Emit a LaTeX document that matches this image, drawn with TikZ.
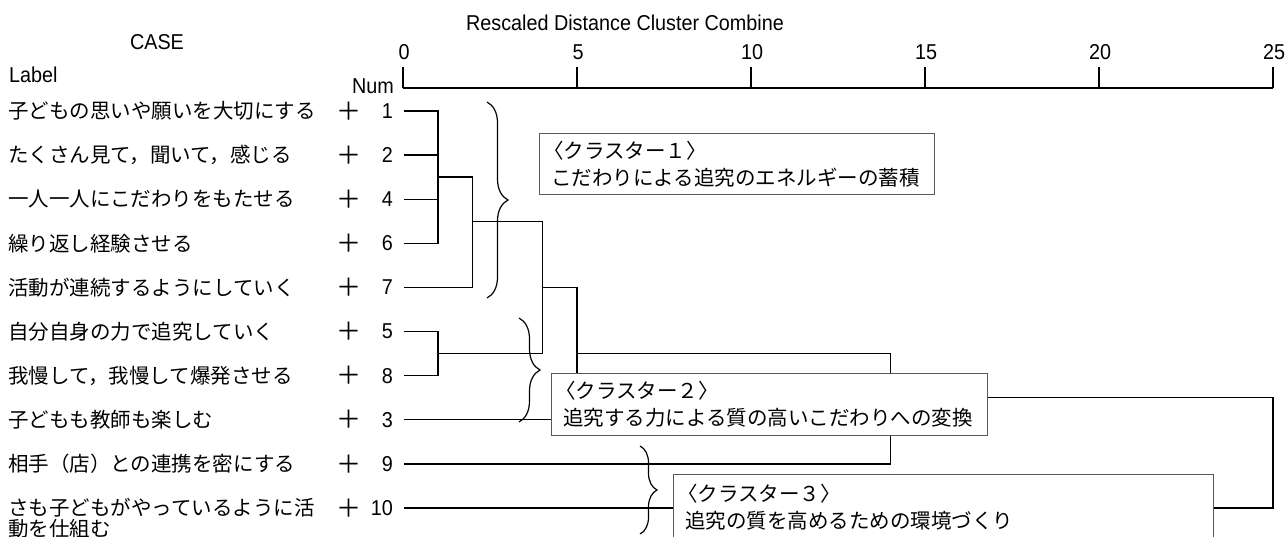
\documentclass[tikz,border=0pt]{standalone}
\usepackage{fontspec}
\setmainfont{Liberation Sans}[FakeStretch=0.92]
\newfontfamily\jpfont{Noto Sans CJK JP}
\usepackage{tikz}
\usetikzlibrary{positioning, decorations.pathreplacing}

\tikzset{
    lbl/.style={anchor=west, inner sep=0pt, font=\jpfont\fontsize{20.5}{22}\selectfont},
    pls/.style={inner sep=0pt, font=\jpfont\fontsize{25}{26}\selectfont},
    num/.style={inner sep=0pt, font=\fontsize{21.5}{24}\selectfont},
    link/.style={line width=1.4pt},
    cbox/.style={draw=black!65, line width=0.9pt, fill=white, anchor=north west,
        align=left, inner xsep=12pt, inner ysep=0pt,
        font=\jpfont\fontsize{20.5}{27}\selectfont},
    cbrace/.style={decorate, decoration={brace, amplitude=#1}, line width=1.2pt}
}

\begin{document}
\begin{tikzpicture}[x=1pt, y=-1pt]
    \useasboundingbox (0,0) rectangle (1287,536);

    % Define nodes
    \node[num] (title) at (625,23) {Rescaled Distance Cluster Combine};
    \node[num] (case) at (157,42) {CASE};
    \node[num, anchor=west] (label) at (9,75) {Label};
    \node[num, anchor=east] (numh) at (394,86) {Num};

    % Axis
    \coordinate (a0) at (403,88);
    \coordinate (a25) at (1273,88);
    \draw[link] (a0) -- (a25);
    \foreach \v in {0,5,...,25} {
        \coordinate (t\v) at (403+34.8*\v,88);
        \draw[link] (t\v) -- ++(0,-21);
        \node[num] (tl\v) at (404+34.8*\v,52) {\v};
    }

    % Cases
    \foreach \n/\txt [count=\i from 0] in {1/子どもの思いや願いを大切にする,
            2/たくさん見て，聞いて，感じる, 4/一人一人にこだわりをもたせる,
            6/繰り返し経験させる, 7/活動が連続するようにしていく,
            5/自分自身の力で追究していく, 8/我慢して，我慢して爆発させる,
            3/子どもも教師も楽しむ, 9/相手（店）との連携を密にする,
            10/さも子どもがやっているように活} {
        \node[lbl] (lb\n) at (8,111+44.1*\i) {\txt};
        \node[pls] (p\n) at (349,111+44.1*\i) {＋};
        \node[num, anchor=east] (n\n) at (393,111+44.1*\i) {\n};
        \coordinate (s\n) at (404,111+44.1*\i);
    }
    \node[lbl, below=1pt of lb10.south west, anchor=north west] (lb10b) {動を仕組む};

    % Joins
    \coordinate (j1) at (437.8,177.15);
    \coordinate (j2) at (472.6,221.25);
    \coordinate (j3) at (437.8,353.55);
    \coordinate (j4) at (542.2,287.4);
    \coordinate (j5) at (577,353.55);
    \coordinate (j6) at (890.2,397.65);
    \coordinate (j7) at (1273,452.8);

    % Draw links
    \draw[link] (s1) -| (j1) |- (s6);
    \draw[link] (s2) -- (s2 -| j1);
    \draw[link] (s4) -- (s4 -| j1);
    \draw[link] (j1) -| (j2) |- (s7);
    \draw[link] (s5) -| (j3) |- (s8);
    \draw[link] (j2) -| (j4) |- (j3);
    \draw[link] (j4) -| (j5) |- (s3);
    \draw[link] (j5) -| (j6) |- (s9);
    \draw[link] (j6) -| (j7) |- (s10);

    % Clusters
    \node[cbox, minimum width=395, minimum height=61, text width=371] (k1) at (539,133)
        {\hspace*{-0.4em}〈クラスター１〉\\こだわりによる追究のエネルギーの蓄積};
    \node[cbox, minimum width=436, minimum height=62, text width=412] (k2) at (551,373)
        {\hspace*{-0.4em}〈クラスター２〉\\追究する力による質の高いこだわりへの変換};
    \node[cbox, minimum width=540, minimum height=66, text width=516] (k3) at (673,474)
        {\hspace*{-0.4em}〈クラスター３〉\\追究の質を高めるための環境づくり};

    % Braces
    \coordinate (b1a) at (487,102);
    \coordinate (b1b) at (487,298);
    \coordinate (b2a) at (519,318);
    \coordinate (b2b) at (519,422);
    \coordinate (b3a) at (640,446);
    \coordinate (b3b) at (640,534);
    \draw[cbrace=21pt] (b1a) -- (b1b);
    \draw[cbrace=21pt] (b2a) -- (b2b);
    \draw[cbrace=17pt] (b3a) -- (b3b);
\end{tikzpicture}
\end{document}
